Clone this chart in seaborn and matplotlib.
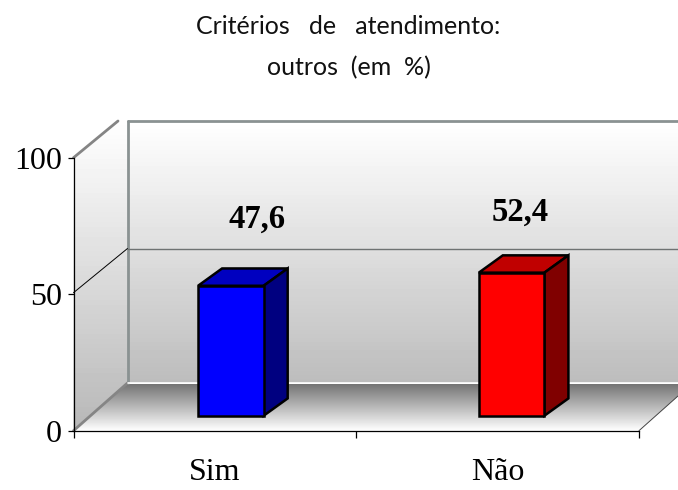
import numpy as np
import seaborn as sns
import matplotlib.pyplot as plt
from matplotlib.patches import Polygon
from matplotlib.transforms import ScaledTranslation

categories = ['Sim', 'Não']
values = [47.6, 52.4]
value_labels = ['47,6', '52,4']
y_ticks = [0, 50, 100]
title_lines = ['Critérios   de   atendimento:', 'outros  (em  %)']

front_colors = ['#0000ff', '#ff0000']
top_colors = ['#0000c0', '#c00000']
side_colors = ['#000080', '#800000']

W, H = 678, 490

sns.set_style('white')
plt.rcParams['font.family'] = ['Liberation Serif', 'DejaVu Serif']

fig = plt.figure(figsize=(W / 100, H / 100), dpi=100)

# the "3d box" behind the chart, drawn in pixel coordinates
bg = fig.add_axes([0, 0, 1, 1], zorder=0)
bg.set_axis_off()


def gradient(y_top, y_bottom, x0, x1, g_top, g_bottom, outline):
    grad = np.linspace(g_top, g_bottom, 64).reshape(-1, 1)
    im = bg.imshow(grad, extent=(x0, x1, y_bottom, y_top), aspect='auto', cmap='gray', vmin=0, vmax=1)
    poly = Polygon(outline, closed=True, transform=bg.transData, fc='none', ec='none')
    bg.add_patch(poly)
    im.set_clip_path(poly)


gradient(121, 383, 127, W, 1.0, 0.74, [(127, 121), (W, 121), (W, 383), (127, 383)])
gradient(121, 431, 73, 128, 1.0, 0.72, [(73.5, 157.7), (118, 121), (127.5, 121), (127.5, 383), (73.5, 430.7)])
gradient(384, 431, 73, W, 0.46, 1.0, [(127.5, 384), (W, 384), (W, 396), (639, 430.7), (73.5, 430.7)])
bg.set_xlim(0, W)
bg.set_ylim(H, 0)

wall_c = '#8a9292'
bg.plot([127.5, W], [121, 121], color=wall_c, lw=2)
bg.plot([127.5, 127.5], [121, 383], color=wall_c, lw=2)
bg.plot([73.5, 118], [157.7, 121], color='#858585', lw=2)
bg.plot([73.5, 127.5], [430.7, 383], color='#858585', lw=2)
bg.plot([127.5, W], [382.5, 382.5], color='white', lw=1.2)
bg.plot([127.5, W], [248.5, 248.5], color='#6e7272', lw=1.0)
bg.plot([73.5, 127.5], [292.7, 248.5], color='black', lw=0.7)
bg.plot([639, W], [430.7, 396], color='#444444', lw=0.7)

ax = fig.add_axes([73.5 / W, 1 - 430.7 / H, 565.5 / W, 273 / H], zorder=1)
ax.patch.set_visible(False)

sns.barplot(x=categories, y=values, hue=categories, palette=front_colors, legend=False,
            width=0.232, edgecolor='black', linewidth=1.8, saturation=1, ax=ax)

ax.set_xlim(-0.5, 1.5)
ax.set_ylim(0, 100)

# bars stand in the middle of the floor, not on the front edge
bar_shift_px = [16, 14]
depth_x = 24 / 282.75
depth_y = 17.3 / 2.73

for i, bar in enumerate(ax.patches):
    shift = ScaledTranslation(bar_shift_px[i] / 100, 15 / 100, fig.dpi_scale_trans)
    bar.set_transform(ax.transData + shift)
    bar.set_zorder(4)
    x0, x1 = bar.get_x(), bar.get_x() + bar.get_width()
    y0, y1 = bar.get_y(), bar.get_y() + bar.get_height()
    top = [(x0, y1), (x1, y1), (x1 + depth_x, y1 + depth_y), (x0 + depth_x, y1 + depth_y)]
    side = [(x1, y0), (x1 + depth_x, y0 + depth_y), (x1 + depth_x, y1 + depth_y), (x1, y1)]
    for pts, col in [(top, top_colors[i]), (side, side_colors[i])]:
        ax.add_patch(Polygon(pts, closed=True, fc=col, ec='black', lw=1.8, zorder=3,
                             joinstyle='miter', transform=ax.transData + shift))

label_offsets = [(42, 81), (22.5, 75)]
for i, v in enumerate(values):
    ax.annotate(value_labels[i], (i, v), xytext=label_offsets[i], textcoords='offset pixels',
                ha='center', va='center', fontsize=23.5, fontweight='bold', color='black')

for s in ['top', 'right']:
    ax.spines[s].set_visible(False)
for s in ['left', 'bottom']:
    ax.spines[s].set_color('black')
    ax.spines[s].set_linewidth(0.9)

ax.set_yticks(y_ticks)
ax.tick_params(axis='y', length=4.5, width=0.9, color='black', labelcolor='black', pad=4, labelsize=23, left=True)
ax.set_xticks([-0.5, 0.5, 1.5])
ax.set_xticklabels([])
ax.tick_params(axis='x', which='major', length=5, width=0.9, color='black', bottom=True)
ax.set_xticks([0, 1], minor=True)
ax.set_xticklabels(categories, minor=True)
ax.tick_params(axis='x', which='minor', length=0, pad=20, labelsize=23, labelcolor='black')

for line, y in zip(title_lines, [26, 68]):
    fig.text(348.5 / W, 1 - y / H, line, family='Lato', fontsize=18, ha='center', va='center',
             color='#111111')

fig.savefig('out.png', dpi=100)
